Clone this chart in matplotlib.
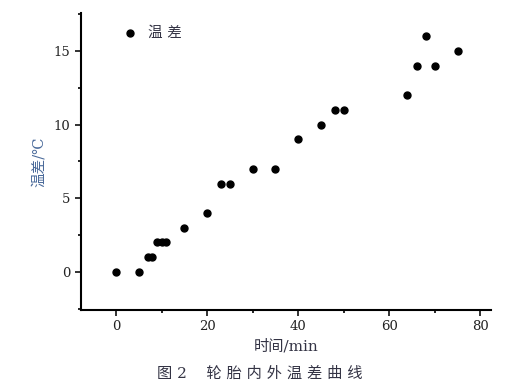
import matplotlib
matplotlib.use("Agg")
import matplotlib.pyplot as plt
from matplotlib.ticker import MultipleLocator

time_min = [0, 5, 7, 8, 9, 10, 11, 15, 20, 23, 25, 30, 35, 40, 45, 48, 50, 64, 66, 68, 70, 75]
temp_diff = [0, 0, 1, 1, 2, 2, 2, 3, 4, 6, 6, 7, 7, 9, 10, 11, 11, 12, 14, 16, 14, 15]

fam = ['DejaVu Serif', 'Noto Sans CJK SC']
plt.rcParams['font.family'] = fam

fig = plt.figure(figsize=(5.2, 3.9), dpi=100)
ax = fig.add_axes([0.1558, 0.205, 0.788, 0.762])
ax.scatter(time_min, temp_diff, s=25, color='black', label='温 差', zorder=3)

ax.set_xlim(-7.7, 82.3)
ax.set_ylim(-2.6, 17.6)
ax.xaxis.set_major_locator(MultipleLocator(20))
ax.xaxis.set_minor_locator(MultipleLocator(10))
ax.yaxis.set_major_locator(MultipleLocator(5))
ax.yaxis.set_minor_locator(MultipleLocator(2.5))
for s in ['top', 'right']:
    ax.spines[s].set_visible(False)
for s in ['left', 'bottom']:
    ax.spines[s].set_linewidth(1.5)
ax.tick_params(which='major', direction='out', length=4, width=1.3, labelsize=9.5, colors='#222222')
ax.tick_params(which='minor', direction='out', length=2.5, width=1.2)

ax.set_xlabel('时间/min', fontsize=11, color='#333344', labelpad=4)
ax.set_ylabel('温差/℃', fontsize=10.5, color='#4a6a9a', labelpad=6)

leg = ax.legend(loc='upper left', frameon=False, fontsize=10.5, handletextpad=0.2,
                borderaxespad=0.3, bbox_to_anchor=(0.06, 0.99))
for t in leg.get_texts():
    t.set_color('#333344')

fig.text(0.5, 0.043, '图 2    轮 胎 内 外 温 差 曲 线', ha='center', va='center', fontsize=11, color='#333344')

fig.savefig('out.png', dpi=100)
